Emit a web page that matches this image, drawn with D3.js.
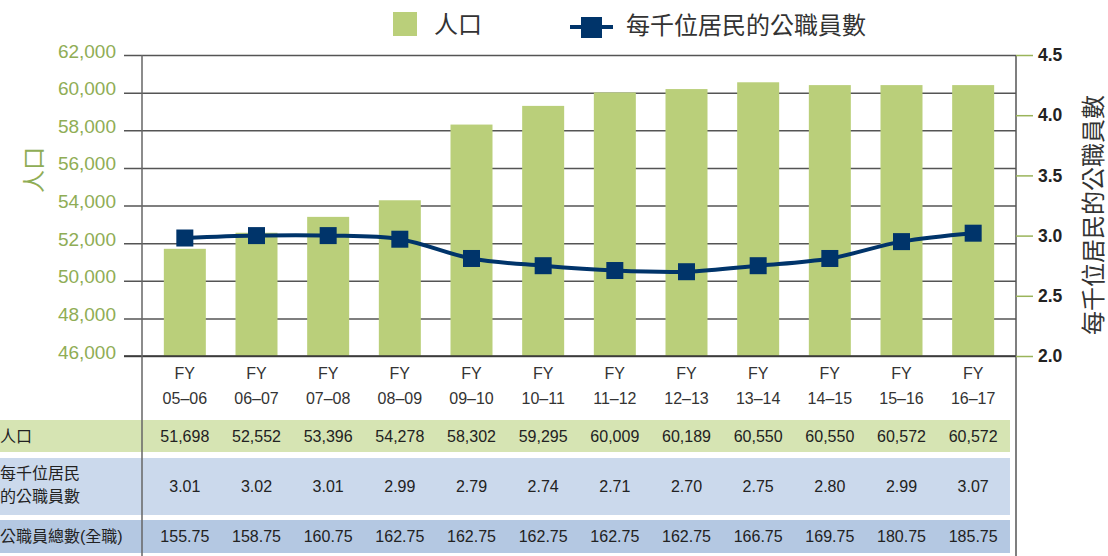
<!DOCTYPE html>
<html>
<head>
<meta charset="utf-8">
<script src="https://cdn.jsdelivr.net/npm/d3@7"></script>
<style>
  body { margin: 0; background: #fff; }
  svg text { font-family: "Liberation Sans", Arial, "Noto Sans CJK TC", sans-serif; }
</style>
</head>
<body>
<svg id="chart"></svg>
<script>
var width = 1108;
var height = 556;

// categories (two-line x labels)
var years = ["05–06", "06–07", "07–08", "08–09", "09–10", "10–11", "11–12", "12–13", "13–14", "14–15", "15–16", "16–17"];
// bar values as drawn (population)
var population = [51698, 52552, 53396, 54278, 58302, 59295, 60009, 60189, 60550, 60400, 60400, 60400];
// line values as drawn (staff per 1,000 residents)
var perThousand = [2.98, 3.00, 3.00, 2.97, 2.81, 2.75, 2.71, 2.70, 2.75, 2.81, 2.95, 3.02];

// table rows, as printed
var rowPop = ["51,698", "52,552", "53,396", "54,278", "58,302", "59,295", "60,009", "60,189", "60,550", "60,550", "60,572", "60,572"];
var rowPer = ["3.01", "3.02", "3.01", "2.99", "2.79", "2.74", "2.71", "2.70", "2.75", "2.80", "2.99", "3.07"];
var rowStaff = ["155.75", "158.75", "160.75", "162.75", "162.75", "162.75", "162.75", "162.75", "166.75", "169.75", "180.75", "185.75"];

var leftTicks = [46000, 48000, 50000, 52000, 54000, 56000, 58000, 60000, 62000];
var rightTicks = [2.0, 2.5, 3.0, 3.5, 4.0, 4.5];

var plotLeft = 142, plotRight = 1016, plotTop = 55, plotBottom = 356;

var green = "#bacf7a";
var greenText = "#8fad55";
var navy = "#00346a";

var svg = d3.select("#chart")
  .attr("width", width)
  .attr("height", height);

var x = d3.scaleBand()
  .domain(years)
  .range([149, 1009])
  .paddingInner(0.414)
  .paddingOuter(0.207);

var yLeft = d3.scaleLinear()
  .domain([46000, 62000])
  .range([plotBottom, plotTop]);

var yRight = d3.scaleLinear()
  .domain([2, 4.5])
  .range([plotBottom, plotTop]);

// table row backgrounds
svg.append("rect").attr("x", 0).attr("y", 420).attr("width", 1010).attr("height", 32).attr("fill", "#d6e4b3");
svg.append("rect").attr("x", 0).attr("y", 458).attr("width", 1010).attr("height", 57).attr("fill", "#cbd9ec");
svg.append("rect").attr("x", 0).attr("y", 520).attr("width", 1010).attr("height", 33).attr("fill", "#b4c8e2");

// grid lines
svg.append("g")
  .attr("class", "grid")
  .attr("transform", "translate(" + plotLeft + ",0)")
  .call(d3.axisLeft(yLeft)
    .tickValues(leftTicks)
    .tickSize(-(plotRight - plotLeft))
    .tickSizeOuter(0)
    .tickFormat(""))
  .call(g => g.select(".domain").remove());

svg.selectAll(".grid line")
  .attr("x1", -18)
  .style("stroke", "#555")
  .style("stroke-width", 1.5);

// bars
svg.selectAll(".bar")
  .data(population)
  .enter()
  .append("rect")
  .attr("class", "bar")
  .attr("x", (d, i) => x(years[i]))
  .attr("width", x.bandwidth())
  .attr("y", d => yLeft(d))
  .attr("height", d => plotBottom - yLeft(d))
  .attr("fill", green);

// bottom line redrawn over bars
svg.append("line")
  .attr("x1", plotLeft - 18).attr("x2", plotRight)
  .attr("y1", plotBottom).attr("y2", plotBottom)
  .style("stroke", "#333").style("stroke-width", 1.5);

// vertical axis lines (run down through the table)
svg.append("line").attr("x1", plotLeft).attr("x2", plotLeft).attr("y1", plotTop).attr("y2", height)
  .style("stroke", "#666").style("stroke-width", 1.5);
svg.append("line").attr("x1", plotRight).attr("x2", plotRight).attr("y1", plotTop).attr("y2", height)
  .style("stroke", "#555").style("stroke-width", 1.5);

// left tick labels
svg.selectAll(".ltick")
  .data(leftTicks)
  .enter()
  .append("text")
  .attr("class", "ltick")
  .attr("x", 116)
  .attr("y", d => yLeft(d) + 2.5)
  .attr("text-anchor", "end")
  .attr("fill", greenText)
  .style("font-size", "19px")
  .text(d => d3.format(",")(d));

// right axis
var rAxis = svg.append("g")
  .attr("transform", "translate(" + plotRight + ",0)")
  .call(d3.axisRight(yRight)
    .tickValues(rightTicks)
    .tickSize(17)
    .tickPadding(5)
    .tickFormat(d3.format(".1f")));
rAxis.select(".domain").remove();
rAxis.selectAll("line").style("stroke", "#9ab45a").style("stroke-width", 1.5);
rAxis.selectAll("text")
  .attr("fill", "#222")
  .style("font-size", "17.5px")
  .style("font-weight", "bold")
  .style("font-family", "'Liberation Sans', Arial, sans-serif");

// x labels
var xl = svg.selectAll(".xlab")
  .data(years)
  .enter()
  .append("text")
  .attr("class", "xlab")
  .attr("text-anchor", "middle")
  .attr("fill", "#333")
  .style("font-size", "16px");
xl.append("tspan").attr("x", d => x(d) + x.bandwidth() / 2).attr("y", 379).text("FY");
xl.append("tspan").attr("x", d => x(d) + x.bandwidth() / 2).attr("y", 404).text(d => d);

// line (smoothed, like the original)
var line = d3.line()
  .x((d, i) => x(years[i]) + x.bandwidth() / 2)
  .y(d => yRight(d))
  .curve(d3.curveCatmullRom.alpha(0.5));

svg.append("path")
  .datum(perThousand)
  .attr("d", line)
  .attr("fill", "none")
  .attr("stroke", navy)
  .attr("stroke-width", 4);

svg.selectAll(".marker")
  .data(perThousand)
  .enter()
  .append("rect")
  .attr("class", "marker")
  .attr("x", (d, i) => x(years[i]) + x.bandwidth() / 2 - 8.5)
  .attr("y", d => yRight(d) - 8.5)
  .attr("width", 17)
  .attr("height", 17)
  .attr("fill", navy);

// axis titles
svg.append("text")
  .attr("transform", "translate(42,170) rotate(-90)")
  .attr("text-anchor", "middle")
  .attr("fill", greenText)
  .style("font-size", "23px")
  .text("人口");

svg.append("text")
  .attr("transform", "translate(1102,215) rotate(-90)")
  .attr("text-anchor", "middle")
  .attr("fill", "#333")
  .style("font-size", "24px")
  .text("每千位居民的公職員數");

// legend
svg.append("rect").attr("x", 393).attr("y", 12).attr("width", 24).attr("height", 24).attr("fill", green);
svg.append("text").attr("x", 434).attr("y", 33).attr("fill", "#333").style("font-size", "24px").text("人口");
svg.append("line").attr("x1", 570).attr("x2", 613).attr("y1", 27).attr("y2", 27)
  .attr("stroke", navy).attr("stroke-width", 4);
svg.append("rect").attr("x", 581).attr("y", 17).attr("width", 21).attr("height", 21).attr("fill", navy);
svg.append("text").attr("x", 626).attr("y", 34).attr("fill", "#333").style("font-size", "24px").text("每千位居民的公職員數");

// table
function tableRow(values, yPos) {
  svg.append("g").selectAll("text")
    .data(values)
    .enter()
    .append("text")
    .attr("x", (d, i) => x(years[i]) + x.bandwidth() / 2)
    .attr("y", yPos)
    .attr("text-anchor", "middle")
    .attr("fill", "#222")
    .style("font-size", "16px")
    .text(d => d);
}
tableRow(rowPop, 442);
tableRow(rowPer, 492);
tableRow(rowStaff, 542);

svg.append("text").attr("x", 0).attr("y", 442).attr("fill", "#222").style("font-size", "16px").text("人口");
svg.append("text").attr("x", 0).attr("y", 479).attr("fill", "#222").style("font-size", "16px").text("每千位居民");
svg.append("text").attr("x", 0).attr("y", 502).attr("fill", "#222").style("font-size", "16px").text("的公職員數");
svg.append("text").attr("x", 0).attr("y", 542).attr("fill", "#222").style("font-size", "16px").text("公職員總數(全職)");
</script>
</body>
</html>
